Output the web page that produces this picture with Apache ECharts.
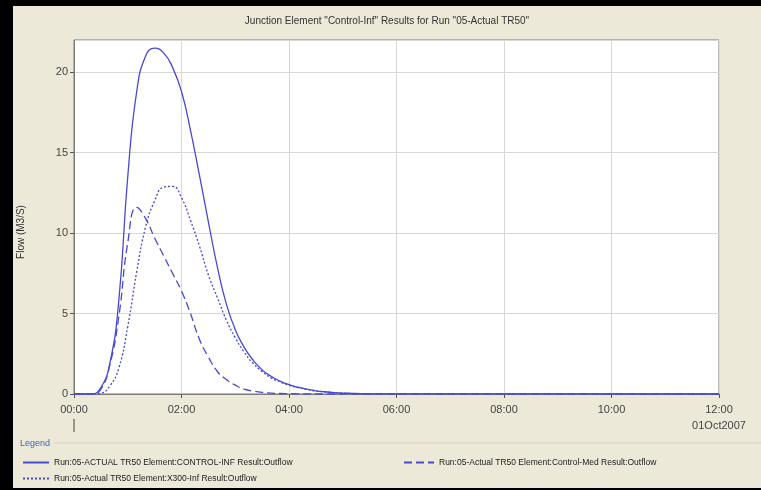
<!DOCTYPE html>
<html>
<head>
<meta charset="utf-8">
<script src="https://cdn.jsdelivr.net/npm/echarts@6/dist/echarts.min.js"></script>
<style>
  html, body { margin: 0; padding: 0; background: #000; }
  #chart { position: absolute; left: 13px; top: 6px; width: 748px; height: 482px; background: #ece9d8; }
</style>
</head>
<body>
<div id="chart"></div>
<script>
  // minutes after 00:00 on 01Oct2007
  var times = [0, 10, 20, 30, 40, 50, 60, 70, 80, 90, 100, 110, 120, 130, 140, 150, 160, 170,
    180, 190, 200, 210, 220, 230, 240, 250, 260, 270, 280, 290, 300, 310, 320, 330, 720];
  var controlInf = [0, 0, 0, 0.4, 1.9, 5.8, 13.5, 18.8, 21.0, 21.5, 21.2, 20.3, 18.8, 16.4, 13.6, 10.7, 7.9, 5.6,
    4.0, 2.9, 2.1, 1.5, 1.1, 0.8, 0.58, 0.42, 0.3, 0.2, 0.14, 0.09, 0.06, 0.04, 0.02, 0.01, 0];
  var controlMed = [0, 0, 0, 0.3, 1.8, 4.8, 9.4, 11.6, 10.9, 9.7, 8.6, 7.5, 6.4, 5.0, 3.4, 2.3, 1.4, 0.9,
    0.55, 0.3, 0.18, 0.1, 0.06, 0.03, 0.02, 0.01, 0, 0, 0, 0, 0, 0, 0, 0, 0];
  var x300Inf = [0, 0, 0, 0.05, 0.5, 1.6, 4.2, 7.6, 10.4, 12.0, 12.85, 12.9, 12.2, 10.8, 9.2, 7.4, 6.0, 4.6,
    3.5, 2.6, 1.9, 1.4, 1.0, 0.75, 0.55, 0.4, 0.28, 0.18, 0.12, 0.08, 0.05, 0.03, 0.02, 0.01, 0];
  var names = [
    'Run:05-ACTUAL TR50 Element:CONTROL-INF Result:Outflow',
    'Run:05-Actual TR50 Element:Control-Med Result:Outflow',
    'Run:05-Actual TR50 Element:X300-Inf Result:Outflow'
  ];

  var blue = '#4848d4';
  var font = 'Liberation Sans';

  function pairs(vals) {
    return vals.map(function (v, i) { return [times[i], v]; });
  }
  function hhmm(m) {
    var h = Math.floor(m / 60), mm = m % 60;
    return (h < 10 ? '0' : '') + h + ':' + (mm < 10 ? '0' : '') + mm;
  }
  function makeSeries(name, vals, dash) {
    return {
      name: name,
      type: 'line',
      data: pairs(vals),
      smooth: 0.5,
      symbol: 'none',
      lineStyle: { color: blue, width: 1.3, type: dash },
      itemStyle: { color: blue }
    };
  }

  var legendText = { fontSize: 8.5, color: '#222', fontFamily: font };

  var myChart = echarts.init(document.getElementById('chart'));
  myChart.setOption({
    animation: false,
    title: {
      text: 'Junction Element "Control-Inf" Results for Run "05-Actual TR50"',
      left: 'center',
      top: 5,
      textStyle: { fontSize: 10, fontWeight: 'normal', color: '#333', fontFamily: font }
    },
    grid: {
      left: 61, right: 42, top: 34, height: 354,
      show: true, backgroundColor: '#fff', borderColor: '#7a7a7a', borderWidth: 1
    },
    legend: [{
      left: 9, top: 452, orient: 'vertical', itemGap: 7, padding: 0,
      itemWidth: 26, itemHeight: 10,
      itemStyle: { opacity: 0 },
      data: [names[0], names[2]],
      textStyle: legendText
    }, {
      left: 390, top: 452, orient: 'vertical', padding: 0,
      itemWidth: 30, itemHeight: 10,
      itemStyle: { opacity: 0 },
      data: [names[1]],
      textStyle: legendText
    }],
    xAxis: {
      type: 'value',
      min: 0, max: 720, interval: 120,
      axisLine: { lineStyle: { color: '#7a7a7a' } },
      axisTick: { show: true, length: 4, lineStyle: { color: '#555' } },
      splitLine: { show: true, lineStyle: { color: '#d8d8d8' } },
      axisLabel: {
        color: '#444', fontSize: 11, fontFamily: font, margin: 8, lineHeight: 16,
        formatter: function (v) {
          return v === 720 ? hhmm(v) + '\n01Oct2007' : hhmm(v);
        }
      }
    },
    yAxis: {
      type: 'value',
      min: 0, max: 22, interval: 5,
      axisLine: { show: true, lineStyle: { color: '#7a7a7a' } },
      axisTick: { show: true, length: 4, lineStyle: { color: '#555' } },
      splitLine: { show: true, lineStyle: { color: '#d8d8d8' } },
      axisLabel: { color: '#444', fontSize: 11, fontFamily: font, margin: 6, showMaxLabel: false }
    },
    graphic: [
      { type: 'text', x: 8, y: 226, rotation: Math.PI / 2,
        style: { text: 'Flow (M3/S)', fill: '#333', fontSize: 10, fontFamily: font, align: 'center', verticalAlign: 'middle' } },
      { type: 'line', shape: { x1: 61, y1: 413, x2: 61, y2: 426 }, style: { stroke: '#444', lineWidth: 1 } },
      { type: 'line', shape: { x1: 42, y1: 437, x2: 748, y2: 437 }, style: { stroke: '#d6d2c0', lineWidth: 1 } },
      { type: 'text', left: 7, top: 433, style: { text: 'Legend', fill: '#3a66c8', fontSize: 9, fontFamily: font } }
    ],
    series: [
      makeSeries(names[0], controlInf, 'solid'),
      makeSeries(names[1], controlMed, [8, 4]),
      makeSeries(names[2], x300Inf, [2, 2])
    ]
  });
</script>
</body>
</html>
